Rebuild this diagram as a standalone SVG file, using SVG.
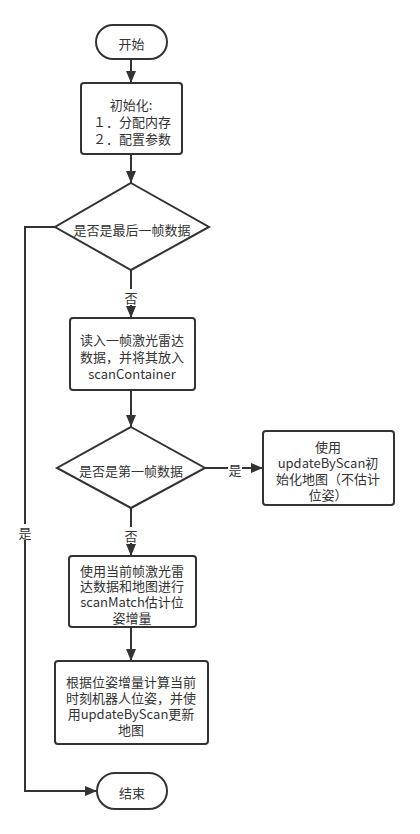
<svg xmlns="http://www.w3.org/2000/svg" width="420" height="834" viewBox="0 0 420 834">
  <style>
    .shape { fill: #ffffff; stroke: #333333; stroke-width: 2; }
    .edge { fill: none; stroke: #333333; stroke-width: 2; }
    text { font-family: "Noto Sans CJK SC", "Noto Sans", sans-serif; font-size: 13px; fill: #333333; text-anchor: middle; dominant-baseline: central; }
    .lbl-bg { fill: #ffffff; }
  </style>
  <defs>
    <marker id="arrow" markerUnits="userSpaceOnUse" markerWidth="12" markerHeight="12" viewBox="0 0 12 12" refX="12" refY="6" orient="auto">
      <path d="M0,1 L12,6 L0,11 Z" fill="#333333"/>
    </marker>
  </defs>
  <rect width="420" height="834" fill="#ffffff"/>

  <!-- connectors -->
  <g id="edges">
    <path class="edge" d="M131,59 L131,83" marker-end="url(#arrow)"/>
    <path class="edge" d="M131,154 L131,183" marker-end="url(#arrow)"/>
    <path class="edge" d="M131,270 L131,318" marker-end="url(#arrow)"/>
    <path class="edge" d="M55,227 L25,227 L25,791 L97,791" marker-end="url(#arrow)"/>
    <path class="edge" d="M131,390 L131,427" marker-end="url(#arrow)"/>
    <path class="edge" d="M205,468 L263,468" marker-end="url(#arrow)"/>
    <path class="edge" d="M131,508 L131,556" marker-end="url(#arrow)"/>
    <path class="edge" d="M131,627 L131,661" marker-end="url(#arrow)"/>
    <!-- edge labels -->
    <rect class="lbl-bg" x="124" y="289" width="14" height="16"/>
    <text x="131" y="297">否</text>
    <rect class="lbl-bg" x="124" y="527" width="14" height="16"/>
    <text x="131" y="535">否</text>
    <rect class="lbl-bg" x="228" y="462" width="14" height="14"/>
    <text x="235" y="469">是</text>
    <rect class="lbl-bg" x="18" y="524" width="14" height="16"/>
    <text x="25" y="532">是</text>
  </g>

  <g id="start">
    <rect class="shape" x="96" y="25" width="71" height="34" rx="17"/>
    <text x="131.5" y="43">开始</text>
  </g>

  <g id="init">
    <rect class="shape" x="81" y="83" width="101" height="71" rx="3"/>
    <text x="131" y="104">初始化:</text>
    <text x="132" y="121">１．分配内存</text>
    <text x="132" y="138">２．配置参数</text>
  </g>

  <g id="isLast">
    <polygon class="shape" points="131,183 209,227 131,270 55,227"/>
    <text x="132" y="229">是否是最后一帧数据</text>
  </g>

  <g id="readScan">
    <rect class="shape" x="70" y="318" width="125" height="72" rx="3"/>
    <text x="132" y="339">读入一帧激光雷达</text>
    <text x="132" y="356">数据，并将其放入</text>
    <text x="132" y="373">scanContainer</text>
  </g>

  <g id="isFirst">
    <polygon class="shape" points="131,427 205,468 131,508 57,468"/>
    <text x="131" y="470">是否是第一帧数据</text>
  </g>

  <g id="initMap">
    <rect class="shape" x="263" y="431" width="131" height="74" rx="3"/>
    <text x="328" y="446">使用</text>
    <text x="328" y="462">updateByScan初</text>
    <text x="328" y="478">始化地图（不估计</text>
    <text x="328" y="494">位姿）</text>
  </g>

  <g id="scanMatch">
    <rect class="shape" x="69" y="556" width="127" height="71" rx="3"/>
    <text x="132" y="570">使用当前帧激光雷</text>
    <text x="132" y="585">达数据和地图进行</text>
    <text x="132" y="601">scanMatch估计位</text>
    <text x="132" y="617">姿增量</text>
  </g>

  <g id="updatePose">
    <rect class="shape" x="55" y="661" width="153" height="83" rx="3"/>
    <text x="131" y="681">根据位姿增量计算当前</text>
    <text x="131" y="697">时刻机器人位姿，并使</text>
    <text x="131" y="713">用updateByScan更新</text>
    <text x="131" y="729">地图</text>
  </g>

  <g id="end">
    <rect class="shape" x="97" y="773" width="70" height="36" rx="18"/>
    <text x="132" y="792">结束</text>
  </g>
</svg>
